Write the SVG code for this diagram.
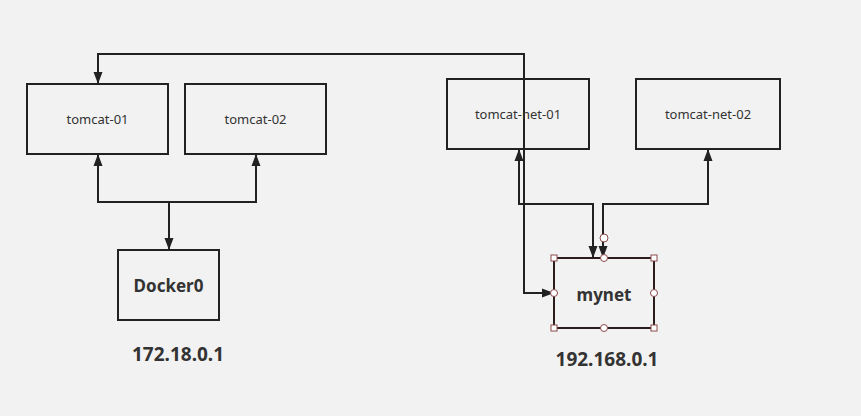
<svg xmlns="http://www.w3.org/2000/svg" width="861" height="416" viewBox="0 0 861 416">
<defs>
<marker id="arr" viewBox="0 0 12 10" refX="12" refY="5" markerWidth="12" markerHeight="10" markerUnits="userSpaceOnUse" orient="auto-start-reverse">
<path d="M0,0.5 L12,5 L0,9.5 z" fill="#222"/>
</marker>
<style>
.box{fill:#f2f2f2;stroke:#222;stroke-width:2}
.lbl{font-family:"Noto Sans","Open Sans",sans-serif;font-size:13px;fill:#333;text-anchor:middle;dominant-baseline:central}
.blbl{font-family:"Noto Sans","Open Sans",sans-serif;font-size:17px;font-weight:bold;fill:#333;text-anchor:middle;dominant-baseline:central}
.ip{font-family:"Noto Sans","Open Sans",sans-serif;font-size:19px;font-weight:bold;fill:#333;text-anchor:middle}
.con{fill:none;stroke:#222;stroke-width:2;marker-start:url(#arr);marker-end:url(#arr)}
.h{fill:#fff;stroke:#8b4a4a;stroke-width:1}
</style>
</defs>
<rect width="861" height="416" fill="#f2f2f2"/>
<g id="connectors">
<path class="con" d="M98,84 L98,54 L524,54 L524,293 L554,293"/>
<path class="con" d="M98,154 L98,202 L169,202 L169,250"/>
<path class="con" d="M256,154 L256,202 L169,202 L169,250" style="marker-start:url(#arr);marker-end:none"/>
<path class="con" d="M519,149 L519,204 L593,204 L593,258"/>
<path class="con" d="M708,149 L708,204 L603,204 L603,258"/>
</g>
<g id="tomcat-01"><rect class="box" x="27" y="84" width="141" height="70"/><text class="lbl" x="97.5" y="119">tomcat-01</text></g>
<g id="tomcat-02"><rect class="box" x="185" y="84" width="141" height="70"/><text class="lbl" x="255.5" y="119">tomcat-02</text></g>
<g id="tomcat-net-01"><rect class="box" x="447" y="79" width="142" height="70" style="fill:none"/><text class="lbl" x="518" y="114">tomcat-net-01</text></g>
<g id="tomcat-net-02"><rect class="box" x="636" y="79" width="144" height="70"/><text class="lbl" x="708" y="114">tomcat-net-02</text></g>
<g id="docker0"><rect class="box" x="118" y="250" width="101" height="70"/><text class="blbl" x="168.5" y="285">Docker0</text></g>
<g id="mynet"><rect class="box" x="554" y="258" width="100" height="70" style="stroke:#2b1d1d"/><text class="blbl" x="604" y="294">mynet</text>
<g id="mynet-handles">
<rect class="h" x="551" y="255" width="6" height="6"/><rect class="h" x="651" y="255" width="6" height="6"/>
<rect class="h" x="551" y="325" width="6" height="6"/><rect class="h" x="651" y="325" width="6" height="6"/>
<circle class="h" cx="604" cy="258" r="3.5"/><circle class="h" cx="604" cy="328" r="3.5"/>
<circle class="h" cx="554" cy="293" r="3.5"/><circle class="h" cx="654" cy="293" r="3.5"/>
<circle class="h" cx="604" cy="238" r="4"/>
</g></g>
<g id="ip-labels">
<text class="ip" x="178" y="361">172.18.0.1</text>
<text class="ip" x="607" y="366">192.168.0.1</text>
</g>
</svg>
